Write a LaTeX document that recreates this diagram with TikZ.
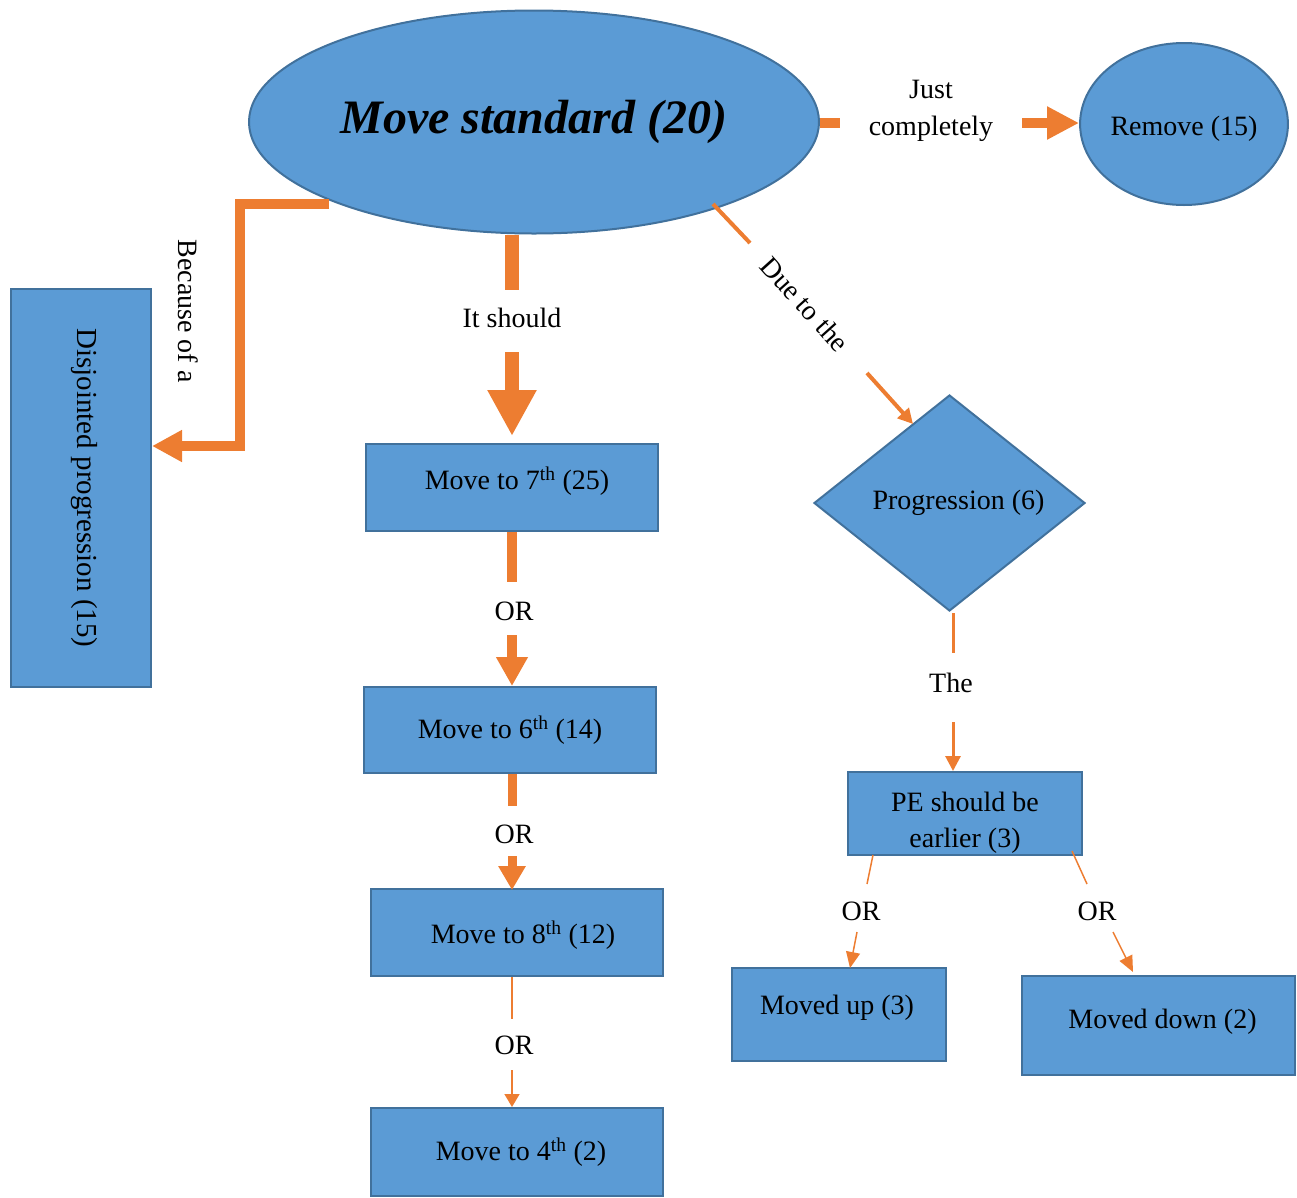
\documentclass[tikz,border=0pt]{standalone}
\usepackage{fontspec}
\setmainfont{Liberation Serif}
\usetikzlibrary{shapes.geometric,arrows.meta}
\definecolor{boxfill}{HTML}{5B9BD5}
\definecolor{boxline}{HTML}{41719C}
\definecolor{orng}{HTML}{ED7D31}
% shift text inside a node: #1 = twice the right shift, #2 = raise, #3 = text
\newcommand\mvtxt[3]{\raisebox{#2}[\height][\depth]{\hspace*{#1}#3}}
\begin{document}
\begin{tikzpicture}[x=1pt,y=-1pt,
  box/.style={draw=boxline, fill=boxfill, line width=2pt, inner sep=0pt,
    font=\fontsize{28}{36}\selectfont, align=center},
  rect/.style={box, rectangle},
  ell/.style={box, ellipse},
  lbl/.style={font=\fontsize{28}{37}\selectfont, align=center, inner sep=0pt},
  con/.style={draw=orng, line cap=butt, line join=miter},
]
\useasboundingbox (0,0) rectangle (1297,1197);

% nodes
\node[ell, minimum width=570, minimum height=223] (main) at (534,122)
  {\fontsize{48}{56}\selectfont\bfseries\itshape Move standard (20)};
\node[ell, minimum width=206, minimum height=162] (rem) at (1184,124)
  {\mvtxt{0pt}{-5pt}{Remove (15)}};
\node[rect, minimum width=140, minimum height=398] (disj) at (81,488)
  {\mvtxt{6pt}{0pt}{\rotatebox{-90}{\fontsize{29}{36}\selectfont Disjointed progression (15)}}};
\node[rect, minimum width=292, minimum height=87] (m7) at (512,487.5)
  {\mvtxt{10pt}{6pt}{Move to 7\textsuperscript{th} (25)}};
\node[rect, minimum width=292, minimum height=86] (m6) at (510,730)
  {Move to 6\textsuperscript{th} (14)};
\node[rect, minimum width=292, minimum height=87] (m8) at (517,932.5)
  {\mvtxt{12pt}{-3pt}{Move to 8\textsuperscript{th} (12)}};
\node[rect, minimum width=292, minimum height=88] (m4) at (517,1152)
  {\mvtxt{8pt}{0pt}{Move to 4\textsuperscript{th} (2)}};
\node[box, diamond, minimum width=271, minimum height=216] (dia) at (949.5,503)
  {\mvtxt{18pt}{0pt}{Progression (6)}};
\node[rect, minimum width=234, minimum height=83] (pe) at (965,813.5)
  {\mvtxt{0pt}{-9pt}{\begin{tabular}{@{}c@{}}PE should be\\earlier (3)\end{tabular}}};
\node[rect, minimum width=214, minimum height=93] (up) at (839,1014.5)
  {\mvtxt{-4pt}{7pt}{Moved up (3)}};
\node[rect, minimum width=273, minimum height=99] (down) at (1158.5,1025.5)
  {\mvtxt{8pt}{4pt}{Moved down (2)}};

% labels
\node[lbl] (ljust) at (931,111) {Just\\completely};
\node[lbl] (lbec) at (188,311) {\rotatebox{-90}{Because of a}};
\node[lbl] (lshould) at (512,318) {It should};
\node[lbl, rotate=-48] (ldue) at (805,304) {Due to the};
\node[lbl] (lor1) at (514,611) {OR};
\node[lbl] (lor2) at (514,834) {OR};
\node[lbl] (lor3) at (514,1045) {OR};
\node[lbl] (lthe) at (951,683) {The};
\node[lbl] (lorl) at (861,911) {OR};
\node[lbl] (lorr) at (1097,911) {OR};

% coordinates for connector gaps
\coordinate (j1) at (840,123);
\coordinate (j2) at (1022,123);
\coordinate (b0) at (329,204);
\coordinate (b1) at (240,446);
\coordinate (s1) at (512,290);
\coordinate (s2) at (512,352);
\coordinate (o1) at (512,582);
\coordinate (o2) at (512,635);
\coordinate (o3) at (512,806);
\coordinate (o4) at (512,856);
\coordinate (o5) at (512,1019);
\coordinate (o6) at (512,1070);
\coordinate (d0) at (713,204);
\coordinate (d1) at (750,243);
\coordinate (d2) at (867,373);
\coordinate (d3) at (913,424);
\coordinate (t0) at (953,613);
\coordinate (t1) at (953,653);
\coordinate (t2) at (953,722);
\coordinate (p0) at (873,855);
\coordinate (p1) at (867,884);
\coordinate (p2) at (857,932);
\coordinate (p3) at (850,968);
\coordinate (q0) at (1072,851);
\coordinate (q1) at (1087,884);
\coordinate (q2) at (1113,932);
\coordinate (q3) at (1133,972);

% connectors
\draw[con, line width=10] (main.east |- j1) -- (j1);
\draw[con, line width=10, -{Triangle[width=31,length=32]}] (j2) -- (j2 -| rem.west);

\draw[con, line width=10, -{Triangle[width=30,length=30]}]
  (b0) -| (b1) -- (b1 -| disj.east);

\draw[con, line width=14] (s1 |- main.south) -- (s1);
\draw[con, line width=14, -{Triangle[width=46,length=46]}, shorten >=7] (s2) -- (s2 |- m7.north);

\draw[con, line width=10] (o1 |- m7.south) -- (o1);
\draw[con, line width=10, -{Triangle[width=30,length=29]}] (o2) -- (o2 |- m6.north);

\draw[con, line width=9] (o3 |- m6.south) -- (o3);
\draw[con, line width=9, -{Triangle[width=26,length=24]}, shorten >=-2] (o4) -- (o4 |- m8.north);

\draw[con, line width=1.5] (o5 |- m8.south) -- (o5);
\draw[con, line width=1.5, -{Triangle[width=15,length=13]}] (o6) -- (o6 |- m4.north);

\draw[con, line width=4] (d0) -- (d1);
\draw[con, line width=4, -{Triangle[width=15,length=15]}] (d2) -- (d3);

\draw[con, line width=3] (t0) -- (t1);
\draw[con, line width=3, -{Triangle[width=15,length=15]}] (t2) -- (t2 |- pe.north);

\draw[con, line width=1.5] (p0) -- (p1);
\draw[con, line width=1.5, -{Triangle[width=14,length=16]}] (p2) -- (p3);
\draw[con, line width=1.5] (q0) -- (q1);
\draw[con, line width=1.5, -{Triangle[width=14,length=16]}] (q2) -- (q3);
\end{tikzpicture}
\end{document}
